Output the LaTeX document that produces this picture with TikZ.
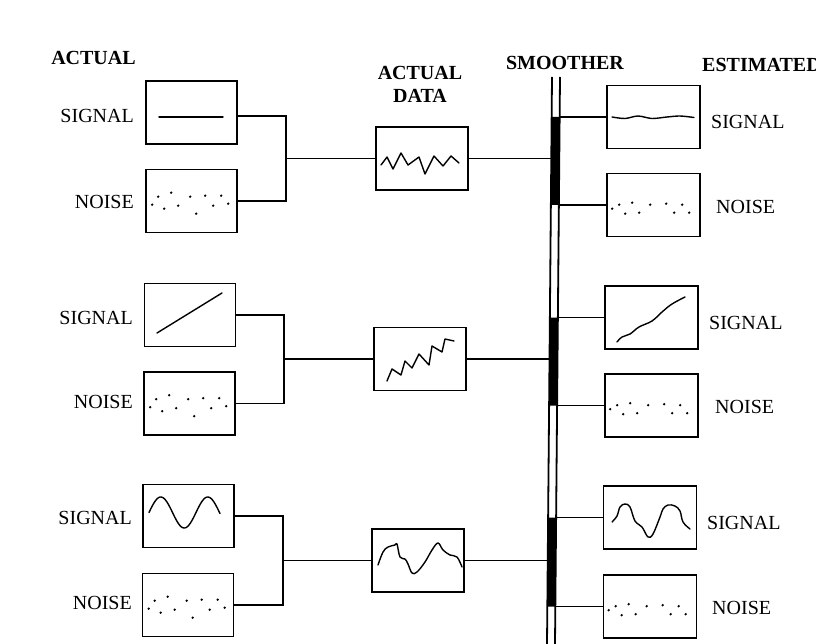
\documentclass[tikz,border=0pt]{standalone}
\usepackage{fontspec}
\setmainfont{Liberation Serif}
\usetikzlibrary{calc}
\newcommand\leftdots[1]{\foreach \dx/\dy in {13/28,26/24,45/28,60/27,76/27,7/36,19/40,33/37,51/45,68/37,83/35}{\fill ($(#1.north west)+(\dx,\dy)$) circle (1.3pt);}}
\newcommand\rightdots[1]{\foreach \dx/\dy in {6/36,13/32,19/41,26/30,33/40,44/32,60/31,68/40,76/32,83/40}{\fill ($(#1.north west)+(\dx,\dy)$) circle (1.3pt);}}
\begin{document}
\begin{tikzpicture}[x=1pt,y=-1pt,
  panel/.style={draw, line width=1.6pt, minimum width=91pt, minimum height=63pt, inner sep=0pt},
  conn/.style={line width=1.3pt},
  wave/.style={line width=1.4pt, line join=round, line cap=round},
  lbl/.style={font=\fontsize{20}{22}\selectfont, inner sep=0pt},
  head/.style={font=\fontsize{20}{22}\selectfont\bfseries, inner sep=0pt}]
\useasboundingbox (0,0) rectangle (816,644);

% headings
\node[head] (hact) at (93.5,58) {ACTUAL};
\node[head] (hdat1) at (420,72.5) {ACTUAL};
\node[head] (hdat2) at (420,95.5) {DATA};
\node[head] (hsm) at (565,63) {SMOOTHER};
\node[head, anchor=west] (hest) at (702,65) {ESTIMATED};

% left panels
\node[panel] (as1) at (191.5,112.5) {};
\node[panel] (an1) at (191.5,201) {};
\node[panel] (as2) at (190,315) {};
\node[panel] (an2) at (189.5,403.5) {};
\node[panel] (as3) at (188.5,516) {};
\node[panel] (an3) at (188,605) {};

% left labels
\node[lbl, anchor=east] (las1) at (134,116) {SIGNAL};
\node[lbl, anchor=east] (lan1) at (134,202) {NOISE};
\node[lbl, anchor=east] (las2) at (133,318) {SIGNAL};
\node[lbl, anchor=east] (lan2) at (133,402) {NOISE};
\node[lbl, anchor=east] (las3) at (132,518) {SIGNAL};
\node[lbl, anchor=east] (lan3) at (132,603) {NOISE};

% data panels
\node[panel, minimum width=92pt] (d1) at (422,158.5) {};
\node[panel, minimum width=92pt] (d2) at (420,359) {};
\node[panel, minimum width=92pt] (d3) at (418,560.5) {};

% estimated panels
\node[panel, minimum width=93pt] (es1) at (653.5,117) {};
\node[panel, minimum width=93pt] (en1) at (653.5,205) {};
\node[panel, minimum width=93pt] (es2) at (651.5,317.5) {};
\node[panel, minimum width=93pt] (en2) at (651.5,405.5) {};
\node[panel, minimum width=93pt] (es3) at (650,517.5) {};
\node[panel, minimum width=93pt] (en3) at (650,606.5) {};

% right labels
\node[lbl, anchor=west] (res1) at (711,122) {SIGNAL};
\node[lbl, anchor=west] (ren1) at (716,207) {NOISE};
\node[lbl, anchor=west] (res2) at (709,323) {SIGNAL};
\node[lbl, anchor=west] (ren2) at (715,407) {NOISE};
\node[lbl, anchor=west] (res3) at (707,523) {SIGNAL};
\node[lbl, anchor=west] (ren3) at (712,608) {NOISE};

% junctions
\coordinate (j1) at (286,158.5);
\coordinate (j2) at (284,359);
\coordinate (j3) at (283,560.5);

% smoother
\coordinate (smLT) at (552,77);
\coordinate (smLB) at (547,644);
\coordinate (smRT) at (560,77);
\coordinate (smRB) at (555,644);
\draw[line width=1.8pt] (smLT) -- (smLB);
\draw[line width=1.8pt] (smRT) -- (smRB);
\fill (551.65,117) -- (559.65,117) -- (558.87,205) -- (550.87,205) -- cycle;
\fill (549.88,317.5) -- (557.88,317.5) -- (557.10,405.5) -- (549.10,405.5) -- cycle;
\fill (548.12,517.5) -- (556.12,517.5) -- (555.33,606.5) -- (547.33,606.5) -- cycle;

\coordinate (sm1) at (551.28,158.5);
\coordinate (sm2) at (549.51,359);
\coordinate (sm3) at (547.74,560.5);
\coordinate (r1a) at (559.65,117);
\coordinate (r1b) at (558.87,205);
\coordinate (r2a) at (557.88,317.5);
\coordinate (r2b) at (557.10,405.5);
\coordinate (r3a) at (556.12,517.5);
\coordinate (r3b) at (555.33,606.5);

% connectors left
\draw[conn] ([yshift=-3.5pt]as1.east) -| (j1) |- (an1.east);
\draw[conn] (j1) -- (d1.west);
\draw[conn] (as2.east) -| (j2) |- (an2.east);
\draw[conn] (j2) -- (d2.west);
\draw[conn] (as3.east) -| (j3) |- (an3.east);
\draw[conn] (j3) -- (d3.west);
% data to smoother
\draw[conn] (d1.east) -- (sm1);
\draw[conn] (d2.east) -- (sm2);
\draw[conn] (d3.east) -- (sm3);
% smoother to estimates
\draw[conn] (r1a) -- (es1.west);
\draw[conn] (r1b) -- (en1.west);
\draw[conn] (r2a) -- (es2.west);
\draw[conn] (r2b) -- (en2.west);
\draw[conn] (r3a) -- (es3.west);
\draw[conn] (r3b) -- (en3.west);

% waveforms: actual signals
\draw[wave] (159,117) -- (223,117);
\draw[wave] (157,333) -- (222,293);
\draw[wave, domain=149:220, samples=80, smooth] plot (\x, {512.5 - 15.5*sin(((\x-149)/47)*360)});

% noise
\leftdots{an1}
\leftdots{an2}
\leftdots{an3}
\rightdots{en1}
\rightdots{en2}
\rightdots{en3}

% actual data
\draw[wave] (381,165) -- (387,157) -- (393,169) -- (401,153) -- (408,165) -- (419,157) -- (425,174) -- (434,156) -- (443,166) -- (451,156) -- (459,163);
\draw[wave] (387,381) -- (392,369) -- (401,375) -- (405,361) -- (412,368) -- (419,354) -- (429,365) -- (432,346) -- (442,352) -- (445,339) -- (454,341);
\draw[wave] plot[smooth, tension=0.6] coordinates {(378,565) (383,552) (388,547) (395,545) (397,544) (400,557) (405,559) (408,564) (412,573) (417,572) (425,562) (432,550) (438,543) (443,550) (450,555) (457,557) (462,567)};

% estimated signals
\draw[wave] plot[smooth] coordinates {(612,117) (625,118.5) (638,116) (652,118.5) (667,117) (680,116) (694,117.5)};
\draw[wave] plot[smooth, tension=0.6] coordinates {(617,342) (622,337) (630,334) (639,327) (652,321) (662,312) (672,304) (685,297)};
\draw[wave] plot[smooth, tension=0.6] coordinates {(612,522) (617,516) (620,507) (625,504) (630,507) (635,521) (642,527) (648,537) (653,534) (660,517) (663,509) (668,505) (675,506) (680,511) (683,522) (690,529)};
\end{tikzpicture}
\end{document}
